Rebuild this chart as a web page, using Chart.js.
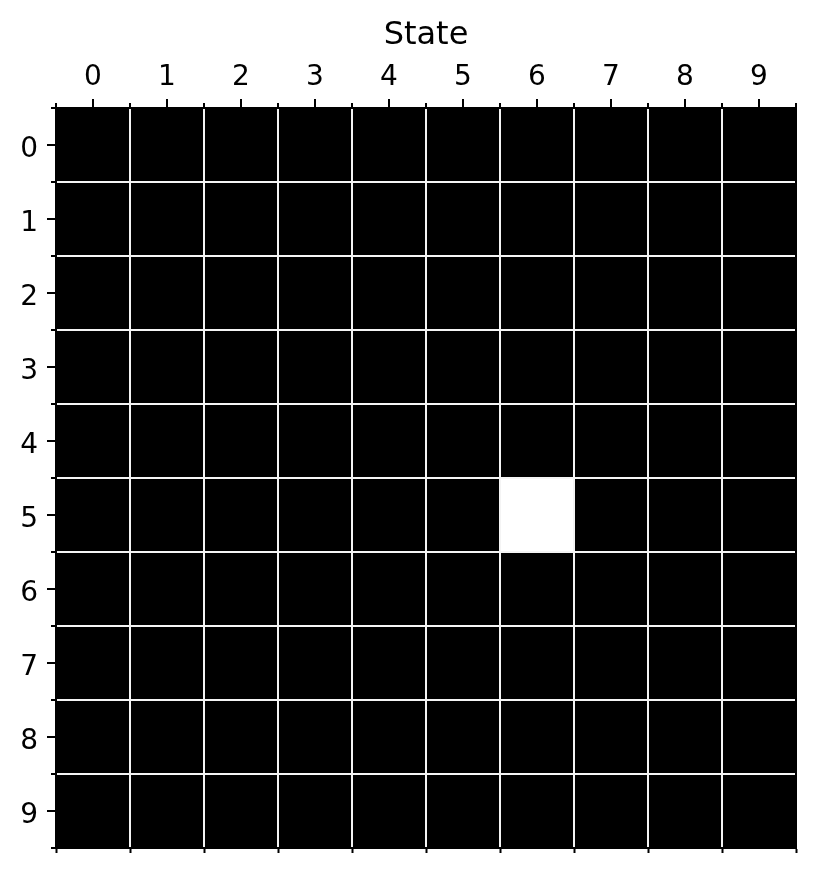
<!DOCTYPE html>
<html><head><meta charset="utf-8">
<script src="https://cdn.jsdelivr.net/npm/chart.js@4/dist/chart.umd.min.js"></script>
<style>html,body{margin:0;padding:0;background:#fff}#wrap{width:816px;height:874px}</style>
</head><body><div id="wrap"><canvas id="c" width="816" height="874"></canvas></div>
<script>
const colLabels = ['0','1','2','3','4','5','6','7','8','9'];
const rowLabels = ['0','1','2','3','4','5','6','7','8','9'];
const axisTitle = 'State';
const cellValues = [
  [0,0,0,0,0,0,0,0,0,0],
  [0,0,0,0,0,0,0,0,0,0],
  [0,0,0,0,0,0,0,0,0,0],
  [0,0,0,0,0,0,0,0,0,0],
  [0,0,0,0,0,0,0,0,0,0],
  [0,0,0,0,0,0,1,0,0,0],
  [0,0,0,0,0,0,0,0,0,0],
  [0,0,0,0,0,0,0,0,0,0],
  [0,0,0,0,0,0,0,0,0,0],
  [0,0,0,0,0,0,0,0,0,0]
];

const FONT = 'DejaVu Sans';
const nCols = colLabels.length, nRows = rowLabels.length;
function tickValues(n){ const t=[]; for(let i=0;i<n;i++){ t.push(i-0.5); t.push(i);} t.push(n-0.5); return t; }
const tv = c => (c && c.tick) ? c.tick.value : NaN;
const isMajor = v => Number.isInteger(v);
const isInner = (v,n) => !isMajor(v) && v > -0.5 && v < n-0.5;

const datasets = rowLabels.map((r, ri) => ({
  label: r,
  data: colLabels.map(() => [ri - 0.5, ri + 0.5]),
  backgroundColor: cellValues[ri].map(v => v ? '#ffffff' : '#000000'),
  borderWidth: 0,
  grouped: false,
  barPercentage: 1,
  categoryPercentage: 1,
  xAxisID: 'x',
  yAxisID: 'y'
}));

new Chart(document.getElementById('c'), {
  type: 'bar',
  data: { labels: colLabels, datasets },
  options: {
    responsive: false,
    animation: false,
    devicePixelRatio: 1,
    layout: { padding: 0 },
    plugins: { legend: { display: false }, tooltip: { enabled: false } },
    scales: {
      x: { type: 'category', labels: colLabels, display: false, offset: true },
      xt: {
        type: 'linear', position: 'top', min: -0.5, max: nCols - 0.5, offset: false,
        afterBuildTicks: a => { a.ticks = tickValues(nCols).map(v => ({ value: v })); },
        afterFit: s => { s.height = 108; },
        ticks: {
          autoSkip: false, maxRotation: 0, minRotation: 0, padding: 4, color: '#000',
          font: { family: FONT, size: 28 },
          callback: v => isMajor(v) ? colLabels[v] : ''
        },
        grid: {
          offset: false, z: 1,
          lineWidth: 2,
          color: c => isInner(tv(c), nCols) ? '#f4f4f4' : 'rgba(0,0,0,0)',
          tickLength: 9, tickWidth: 2, tickColor: '#000',
          tickBorderDash: c => isMajor(tv(c)) ? [] : [0, 4, 20]
        },
        border: { display: true, color: '#000', width: 2, z: 2 },
        title: { display: true, text: axisTitle, color: '#000', font: { family: FONT, size: 32 }, padding: { top: 16, bottom: 0 } }
      },
      xb: {
        type: 'linear', position: 'bottom', min: -0.5, max: nCols - 0.5, offset: false,
        afterBuildTicks: a => { a.ticks = tickValues(nCols).filter(v => !isMajor(v)).map(v => ({ value: v })); },
        afterFit: s => { s.height = 26; },
        ticks: { autoSkip: false, maxRotation: 0, callback: () => '' },
        grid: { offset: false, drawOnChartArea: false, tickLength: 5, tickWidth: 2, tickColor: '#000' },
        border: { display: true, color: '#000', width: 2, z: 2 }
      },
      y: {
        type: 'linear', position: 'left', reverse: true, min: -0.5, max: nRows - 0.5, offset: false,
        afterBuildTicks: a => { a.ticks = tickValues(nRows).map(v => ({ value: v })); },
        afterFit: s => { s.width = 56; },
        ticks: {
          autoSkip: false, padding: 9, color: '#000', labelOffset: 5,
          font: { family: FONT, size: 28 },
          callback: v => isMajor(v) ? rowLabels[v] : ''
        },
        grid: {
          offset: false, z: 1,
          lineWidth: 2,
          color: c => isInner(tv(c), nRows) ? '#f4f4f4' : 'rgba(0,0,0,0)',
          tickLength: 9, tickWidth: 2, tickColor: '#000',
          tickBorderDash: c => isMajor(tv(c)) ? [] : [0, 4, 20]
        },
        border: { display: true, color: '#000', width: 2, z: 2 }
      },
      yr: {
        type: 'linear', position: 'right', min: -0.5, max: nRows - 0.5,
        afterFit: s => { s.width = 20; },
        ticks: { display: false },
        grid: { drawOnChartArea: false, drawTicks: false },
        border: { display: true, color: '#000', width: 2, z: 2 }
      }
    }
  }
});
</script>
</body></html>
